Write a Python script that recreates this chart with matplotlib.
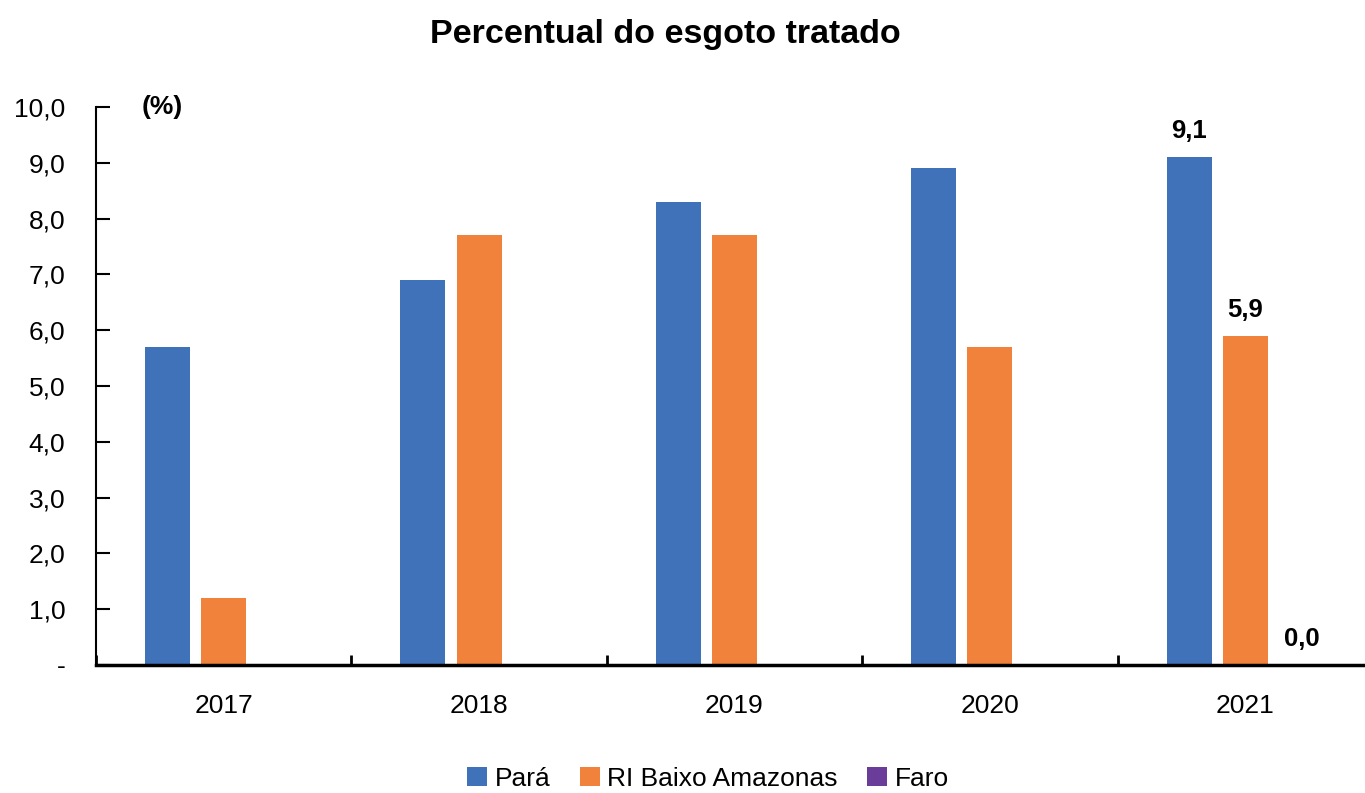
import matplotlib
matplotlib.use("Agg")
import matplotlib.pyplot as plt
import numpy as np
from matplotlib import font_manager

# Data
anos = ["2017", "2018", "2019", "2020", "2021"]
para = [5.7, 6.9, 8.3, 8.9, 9.1]
ri_baixo_amazonas = [1.2, 7.7, 7.7, 5.7, 5.9]
faro = [0.0, 0.0, 0.0, 0.0, 0.0]
series_nomes = ["Pará", "RI Baixo Amazonas", "Faro"]
cores = ["#3F72B9", "#F0823C", "#6A3D9A"]

nomes = {f.name for f in font_manager.fontManager.ttflist}
fonte = "Liberation Sans Narrow" if "Liberation Sans Narrow" in nomes else "Liberation Sans"
plt.rcParams["font.family"] = [fonte, "DejaVu Sans"]

fig = plt.figure(figsize=(13.65, 7.93), dpi=100)
ax = fig.add_axes([96 / 1365, 1 - 665 / 793, 1277 / 1365, (665 - 107) / 793])

x = np.arange(len(anos))
w = 0.176
desloc = [-0.22, 0.0, 0.22]
for vals, nome, cor, d in zip([para, ri_baixo_amazonas, faro], series_nomes, cores, desloc):
    ax.bar(x + d, vals, width=w, color=cor, label=nome, zorder=2)

# rótulos só no último ano
ultimo = len(anos) - 1
for vals, d in zip([para, ri_baixo_amazonas, faro], desloc):
    v = vals[ultimo]
    ax.text(ultimo + d, v + 0.25, f"{v:.1f}".replace(".", ","), ha="center", va="bottom",
            fontsize=18.5, fontweight="bold")

ax.set_xlim(-0.5, len(anos) - 0.5)
ax.set_ylim(0, 10)
ax.set_yticks(np.arange(0, 11, 1))
ax.set_yticklabels(["-"] + [f"{v:.1f}".replace(".", ",") for v in range(1, 11)], fontsize=19)
ax.set_xticks(x)
ax.set_xticklabels(anos, fontsize=19)
ax.set_xticks(np.arange(-0.5, len(anos), 1), minor=True)
ax.tick_params(axis="x", which="major", length=0, pad=21)
ax.tick_params(axis="x", which="minor", direction="in", length=7, width=2)
ax.tick_params(axis="y", direction="in", length=10, width=1.5, pad=22)

for s in ["top", "right"]:
    ax.spines[s].set_visible(False)
ax.spines["left"].set_linewidth(1.5)
ax.spines["bottom"].set_linewidth(2.5)

ax.text(-0.5 + 46 / 255, 10.0, "(%)", fontsize=19, fontweight="bold", ha="left", va="center")

fig.suptitle("Percentual do esgoto tratado", fontsize=24.5, fontweight="bold",
             x=665 / 1365, y=1 - 35 / 793, va="center")

fig.legend(loc="center", bbox_to_anchor=(708 / 1365, 1 - 779 / 793), ncol=3, frameon=False,
           fontsize=19, handlelength=0.75, handleheight=0.75, handletextpad=0.3, columnspacing=1.1)

fig.savefig("out.png", dpi=100)
plt.close(fig)
